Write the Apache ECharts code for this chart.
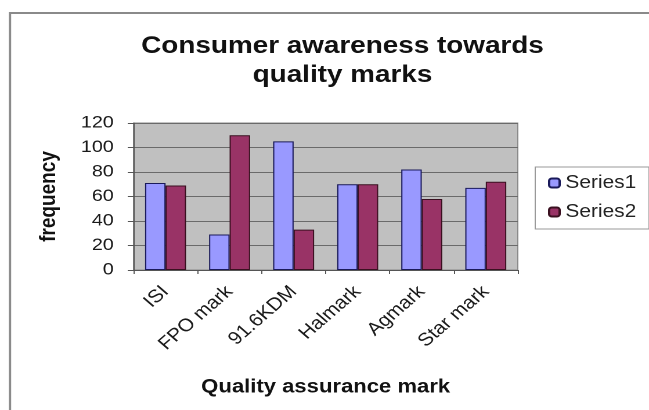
<!DOCTYPE html>
<html lang="en">

<head>
    <meta charset="UTF-8">
    <title>Consumer awareness towards quality marks</title>
    <script src="https://cdn.jsdelivr.net/npm/echarts/dist/echarts.min.js"></script>
    <style>
        html, body {
            margin: 0;
            padding: 0;
            background: #fff;
            overflow: hidden;
        }

        /* the source picture is a bit wider than tall, so the chart is
           laid out narrower and stretched back to 649px */
        #main {
            width: 559px;
            height: 410px;
            transform: scaleX(1.161);
            transform-origin: 0 0;
        }
    </style>
</head>

<body>
    <div id="main"></div>
    <script>
        // values
        var categories = ['ISI', 'FPO mark', '91.6KDM', 'Halmark', 'Agmark', 'Star mark'];
        var series1 = [71, 29, 105, 70, 82, 67];
        var series2 = [69, 110, 33, 70, 58, 72];
        var yTicks = [0, 20, 40, 60, 80, 100, 120];

        var font = 'Arial, "Liberation Sans", sans-serif';
        var chart = echarts.init(document.getElementById('main'), null, { devicePixelRatio: 2 });

        var option = {
            animation: false,
            textStyle: { fontFamily: font },
            title: {
                text: 'Consumer awareness towards\nquality marks',
                left: 290,
                top: 27,
                textAlign: 'center',
                textStyle: {
                    fontFamily: font,
                    fontSize: 24,
                    fontWeight: 'bold',
                    color: '#111',
                    lineHeight: 29
                }
            },
            graphic: [{
                type: 'rect',
                shape: { x: 8.6, y: 13, width: 700, height: 500 },
                style: { fill: 'none', stroke: '#8a8a8a', lineWidth: 2 },
                silent: true
            }],
            legend: {
                orient: 'vertical',
                left: 461,
                top: 167,
                padding: [7, 11, 8, 11],
                itemWidth: 9,
                itemHeight: 9,
                itemGap: 11,
                borderColor: '#999',
                borderWidth: 1,
                textStyle: { fontFamily: font, fontSize: 18, color: '#222' },
                data: ['Series1', 'Series2']
            },
            grid: {
                left: 115,
                right: 113,
                top: 123,
                bottom: 140,
                show: true,
                backgroundColor: '#C0C0C0',
                borderColor: '#888',
                borderWidth: 1
            },
            xAxis: {
                type: 'category',
                data: categories,
                name: 'Quality assurance mark',
                nameLocation: 'middle',
                nameGap: 108,
                nameTextStyle: { fontFamily: font, fontSize: 19, fontWeight: 'bold', color: '#111' },
                axisLine: { lineStyle: { color: '#555' } },
                axisTick: { show: true, length: 4, lineStyle: { color: '#555' } },
                axisLabel: {
                    interval: 0,
                    rotate: 45,
                    margin: 19,
                    fontSize: 18,
                    color: '#1a1a1a'
                }
            },
            yAxis: {
                type: 'value',
                min: 0,
                max: yTicks[yTicks.length - 1],
                interval: yTicks[1] - yTicks[0],
                name: 'frequency',
                nameLocation: 'middle',
                nameRotate: 90,
                nameGap: 63,
                nameTextStyle: { fontFamily: font, fontSize: 19, fontWeight: 'bold', color: '#111' },
                axisLine: { show: true, lineStyle: { color: '#555' } },
                axisTick: { show: true, length: 5, lineStyle: { color: '#555' } },
                axisLabel: { fontSize: 17, color: '#1a1a1a', margin: 17 },
                splitLine: { lineStyle: { color: '#6a6a6a', width: 1 } }
            },
            series: [{
                name: 'Series1',
                type: 'bar',
                data: series1,
                barGap: '0%',
                barCategoryGap: '36%',
                itemStyle: { color: '#9999FF', borderColor: '#1a1a5a', borderWidth: 1 }
            }, {
                name: 'Series2',
                type: 'bar',
                data: series2,
                barGap: '0%',
                barCategoryGap: '36%',
                itemStyle: { color: '#993366', borderColor: '#3a1020', borderWidth: 1 }
            }]
        };

        chart.setOption(option);
    </script>
</body>

</html>
